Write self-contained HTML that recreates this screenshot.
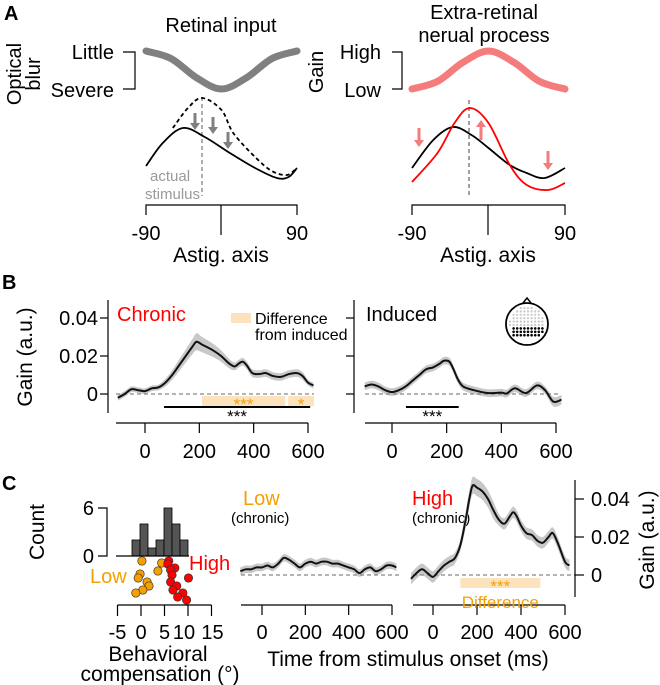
<!DOCTYPE html>
<html><head><meta charset="utf-8"><style>
body{margin:0;background:#fff}
svg{display:block;font-family:"Liberation Sans",Arial,sans-serif}
</style></head><body>
<svg id="fig" width="660" height="685" viewBox="0 0 660 685" xmlns="http://www.w3.org/2000/svg">
<g>
<text x="4" y="20" font-size="20" font-weight="bold">A</text>
<text x="221" y="32" font-size="20" text-anchor="middle">Retinal input</text>
<text transform="translate(21,74) rotate(-90)" font-size="20" text-anchor="middle">Optical</text>
<text transform="translate(40,74) rotate(-90)" font-size="20" text-anchor="middle">blur</text>
<text x="114" y="59" font-size="20" text-anchor="end">Little</text>
<text x="114" y="97" font-size="20" text-anchor="end">Severe</text>
<path d="M123 52H135V89H123" fill="none" stroke="#000" stroke-width="1.2"/>
<text x="484" y="19" font-size="20" text-anchor="middle">Extra-retinal</text>
<text x="484" y="42" font-size="20" text-anchor="middle">nerual process</text>
<text transform="translate(323,72) rotate(-90)" font-size="20" text-anchor="middle">Gain</text>
<text x="381" y="59" font-size="20" text-anchor="end">High</text>
<text x="381" y="97" font-size="20" text-anchor="end">Low</text>
<path d="M392 52H402V89H392" fill="none" stroke="#000" stroke-width="1.2"/>
<text x="150" y="181" font-size="15" fill="#999">actual</text>
<text x="145" y="199" font-size="15" fill="#999">stimulus</text>
<line x1="202" y1="97" x2="202" y2="196" stroke="#999" stroke-width="1.6" stroke-dasharray="4,3"/>
<line x1="469" y1="100" x2="469" y2="196" stroke="#888" stroke-width="1.6" stroke-dasharray="4,3"/>
<path d="M146 215V205H297V215M221 205V235" fill="none" stroke="#000" stroke-width="1.2"/>
<path d="M412 215V205H565V215M488 205V235" fill="none" stroke="#000" stroke-width="1.2"/>
<text x="146" y="240" font-size="20" text-anchor="middle">-90</text>
<text x="297" y="240" font-size="20" text-anchor="middle">90</text>
<text x="221" y="262" font-size="21" text-anchor="middle">Astig. axis</text>
<text x="412" y="240" font-size="20" text-anchor="middle">-90</text>
<text x="565" y="240" font-size="20" text-anchor="middle">90</text>
<text x="488" y="262" font-size="21" text-anchor="middle">Astig. axis</text>
</g>
<g>
<text x="2" y="289" font-size="20" font-weight="bold">B</text>
<text transform="translate(32,357) rotate(-90)" font-size="21" text-anchor="middle">Gain (a.u.)</text>
<text x="117" y="321" font-size="20" fill="#f00">Chronic</text>
<rect x="231" y="313" width="20" height="10" fill="#fde3bd"/>
<text x="255" y="324" font-size="16">Difference</text>
<text x="255" y="340" font-size="16">from induced</text>
<text x="366" y="321" font-size="20">Induced</text>
</g>
<g>
<text x="2" y="490" font-size="20" font-weight="bold">C</text>
<text transform="translate(44,532) rotate(-90)" font-size="21" text-anchor="middle">Count</text>
<text x="94" y="515" font-size="20" text-anchor="end">6</text>
<text x="94" y="563" font-size="20" text-anchor="end">0</text>
<text x="90" y="583" font-size="20" fill="#f5a000">Low</text>
<text x="189" y="570" font-size="20" fill="#f00">High</text>
<text x="158" y="661" font-size="21" text-anchor="middle">Behavioral</text>
<text x="160" y="681" font-size="21" text-anchor="middle">compensation (°)</text>
<text x="243" y="505" font-size="20" fill="#f5a000">Low</text>
<text x="231" y="523" font-size="15">(chronic)</text>
<text x="412" y="505" font-size="20" fill="#f00">High</text>
<text x="412" y="523" font-size="15">(chronic)</text>
<text x="408" y="666" font-size="21" text-anchor="middle">Time from stimulus onset (ms)</text>
<text transform="translate(654,540) rotate(-90)" font-size="21" text-anchor="middle">Gain (a.u.)</text>
</g>
<g id="dyn"></g>
</svg>
<script>
// ---- Panel A schematic data ----
const aBlurAngles = [-90,-60,-30,0,30,60,90];
const aBlurVals = [1,0.8,0.3,0,0.3,0.8,1];
const aGainVals = [0,0.2,0.7,1,0.7,0.2,0];
const aLeftBlackAng = [-90,-70,-46,-20,10,40,66,80,90];
const aLeftBlackVal = [0.29,0.52,0.67,0.58,0.42,0.27,0.17,0.18,0.27];
const aLeftDashAng = [-58,-40,-23,0,14,40,60,78,90];
const aLeftDashVal = [0.67,0.87,0.97,0.85,0.62,0.38,0.24,0.2,0.27];
const aRightBlackAng = [-90,-65,-42,-20,0,25,45,66,90];
const aRightBlackVal = [0.27,0.55,0.68,0.6,0.47,0.3,0.22,0.17,0.27];
const aRightRedAng = [-90,-60,-40,-22,0,25,45,70,90];
const aRightRedVal = [0.13,0.42,0.72,0.87,0.72,0.3,0.1,0.05,0.12];
// ---- Panel B data ----
const chronicT = [-100,-75,-50,-25,0,25,50,75,100,125,150,175,190,210,250,280,310,330,345,360,375,395,420,445,470,500,530,560,580,600,620];
const chronicG = [-0.002,0,0.0025,0.002,0.0015,0.003,0.0035,0.006,0.01,0.015,0.02,0.025,0.0275,0.026,0.023,0.02,0.016,0.0145,0.016,0.017,0.015,0.011,0.0105,0.011,0.0095,0.009,0.0105,0.011,0.0095,0.006,0.0045];
const chronicE = [0.0015,0.0015,0.0015,0.0015,0.0015,0.0015,0.0015,0.002,0.0025,0.003,0.0035,0.004,0.0045,0.004,0.0035,0.003,0.0025,0.002,0.002,0.002,0.002,0.002,0.002,0.002,0.002,0.002,0.002,0.002,0.002,0.0015,0.0015];
const inducedT = [-100,-75,-50,-25,0,25,50,75,100,125,150,175,190,210,225,240,260,300,350,400,420,450,490,530,560,590,620];
const inducedG = [0.004,0.005,0.004,0.002,0.001,0.002,0.004,0.007,0.01,0.013,0.014,0.016,0.0175,0.017,0.013,0.008,0.004,0.002,0.0005,0.0007,0.0003,0.003,0.0005,0.0045,0.002,-0.004,-0.003];
const inducedE = [0.002,0.002,0.002,0.002,0.002,0.002,0.002,0.002,0.002,0.002,0.002,0.002,0.002,0.002,0.002,0.002,0.002,0.002,0.002,0.002,0.002,0.002,0.002,0.002,0.002,0.0025,0.0025];
const chronicDiffBars = [[210,516,"***"],[527,622,"*"]];
const chronicSigBar = [70,608];
const inducedSigBar = [51,244];
// ---- Panel C data ----
const histCounts = [2,4,1,2,6,4,2];
const lowComp = [0.2,4.4,3.6,-0.2,-0.6,1.3,1.7,0.4,-1.1];
const highComp = [5.9,5.7,7.2,6.3,6.6,6.3,7.6,6.8,8.9,7.8,9.7,10.1];
const lowRank = [561,563,571,574,578,582,586,590,593];
const highRank = [561,564,568,570,575,582,586,590,593,597,600,578];
const lowT = [-100,-75,-50,-25,0,25,50,75,100,125,150,175,200,225,250,275,300,325,350,375,400,425,450,475,500,525,550,575,600,620];
const lowG = [0.002,0.003,0.003,0.004,0.004,0.005,0.004,0.006,0.009,0.008,0.006,0.004,0.006,0.007,0.006,0.007,0.007,0.006,0.006,0.005,0.004,0.003,0.001,0.003,0.004,0.002,0.003,0.005,0.005,0.004];
const highT = [-100,-75,-50,-25,0,25,50,75,100,125,150,165,180,200,225,250,275,300,325,350,365,380,400,425,450,475,500,525,545,570,600,620];
const highG = [-0.002,0.001,0.003,0.001,-0.001,0.002,0.005,0.007,0.009,0.016,0.03,0.04,0.047,0.046,0.044,0.04,0.034,0.029,0.027,0.031,0.033,0.031,0.026,0.022,0.021,0.018,0.017,0.02,0.022,0.016,0.007,0.005];
const highDiffBar = [124,488];
const timeTicks = [0,200,400,600];
const gainTicks = [0,0.02,0.04];
const gainTickLabels = ["0","0.02","0.04"];
const compTicks = [-5,0,5,10,15];
const compTickLabels = ["-5","0","5","10","15"];

const NS = "http://www.w3.org/2000/svg";
const root = document.getElementById('dyn');
function el(tag, attrs, parent){ const e=document.createElementNS(NS,tag); for(const k in attrs) e.setAttribute(k,attrs[k]); (parent||root).appendChild(e); return e; }
function lin(d0,d1,r0,r1){ return v=>r0+(v-d0)*(r1-r0)/(d1-d0); }
function smooth(pts){
  let d="M"+pts[0][0].toFixed(2)+" "+pts[0][1].toFixed(2);
  for(let i=0;i<pts.length-1;i++){
    const p0=pts[Math.max(0,i-1)],p1=pts[i],p2=pts[i+1],p3=pts[Math.min(pts.length-1,i+2)];
    const c1=[p1[0]+(p2[0]-p0[0])/6,p1[1]+(p2[1]-p0[1])/6];
    const c2=[p2[0]-(p3[0]-p1[0])/6,p2[1]-(p3[1]-p1[1])/6];
    d+=" C"+c1[0].toFixed(2)+" "+c1[1].toFixed(2)+" "+c2[0].toFixed(2)+" "+c2[1].toFixed(2)+" "+p2[0].toFixed(2)+" "+p2[1].toFixed(2);
  }
  return d;
}
function text(x,y,s,attrs){ const t=el('text',Object.assign({x:x,y:y},attrs||{})); t.textContent=s; return t; }

// ---- Panel A ----
const axL = lin(-90,90,146,297), axR = lin(-90,90,412,565);
const ayTop = v=>89-v*38, ayCurve = v=>195-v*100;
let p;
p=el('path',{d:smooth(aBlurAngles.map((a,i)=>[axL(a),ayTop(aBlurVals[i])])),fill:'none',stroke:'#808080','stroke-width':7,'stroke-linecap':'round'});


p=el('path',{d:smooth(aBlurAngles.map((a,i)=>[axR(a),ayTop(aGainVals[i])])),fill:'none',stroke:'#f47c7c','stroke-width':7,'stroke-linecap':'round'});


p=el('path',{d:smooth(aLeftDashAng.map((a,i)=>[axL(a),ayCurve(aLeftDashVal[i])])),fill:'none',stroke:'#000','stroke-width':1.8,'stroke-dasharray':'4,3'});


p=el('path',{d:smooth(aLeftBlackAng.map((a,i)=>[axL(a),ayCurve(aLeftBlackVal[i])])),fill:'none',stroke:'#000','stroke-width':1.8});


p=el('path',{d:smooth(aRightBlackAng.map((a,i)=>[axR(a),ayCurve(aRightBlackVal[i])])),fill:'none',stroke:'#000','stroke-width':1.8});


p=el('path',{d:smooth(aRightRedAng.map((a,i)=>[axR(a),ayCurve(aRightRedVal[i])])),fill:'none',stroke:'#f00','stroke-width':1.8});


function arrow(x,y1,y2,col){
  const dir=y2>y1?1:-1;
  el('line',{x1:x,y1:y1,x2:x,y2:y2-dir*6,stroke:col,'stroke-width':3});
  el('path',{d:`M${x-5} ${y2-dir*7}L${x+5} ${y2-dir*7}L${x} ${y2}Z`,fill:col});
}
arrow(195,113,130,'#808080');arrow(213,117,134,'#808080');arrow(228,132,149,'#808080');
arrow(419,128,147,'#f47c7c');arrow(481,140,120,'#f47c7c');arrow(548,151,170,'#f47c7c');

// ---- generic time-course plot ----
const gy0B = g=>394-g*1900, gyC = g=>575-g*1900;
function timePlot(name,T,G,E,xs,ys,x0,x1,axisY){
  const up=T.map((t,i)=>[xs(t),ys(G[i]+E[i])]), lo=T.map((t,i)=>[xs(t),ys(G[i]-E[i])]).reverse();
  const band=el('path',{d:smooth(up)+" L"+smooth(lo).slice(1)+"Z",fill:'#c8c8c8',stroke:'none'});
  
  
  el('line',{x1:x0,x2:x1,y1:ys(0),y2:ys(0),stroke:'#888','stroke-width':1.2,'stroke-dasharray':'4,3'});
  const ln=el('path',{d:smooth(T.map((t,i)=>[xs(t),ys(G[i])])),fill:'none',stroke:'#111','stroke-width':2});
  
  
  el('line',{x1:x0,x2:xs(600),y1:axisY,y2:axisY,stroke:'#000','stroke-width':1.2});
  timeTicks.forEach(t=>{
    el('line',{x1:xs(t),x2:xs(t),y1:axisY,y2:axisY+10,stroke:'#000','stroke-width':1.2});
    text(xs(t),axisY+(axisY>500?34:35),String(t),{'font-size':20,'text-anchor':'middle'});
  });
}
function band(x0,x1,y,h,col){ return el('rect',{x:x0,y:y,width:x1-x0,height:h,fill:col}); }

const bxL=lin(0,600,145,308), bxR=lin(0,600,392,556);
let r;
chronicDiffBars.forEach(b=>{ r=band(bxL(b[0]),bxL(b[1]),396,10,'#fde3bd');   });
timePlot('chronic',chronicT,chronicG,chronicE,bxL,gy0B,116,314,423);
chronicDiffBars.forEach(b=>text((bxL(b[0])+bxL(b[1]))/2,410,b[2],{'font-size':17,fill:'#f5a000','text-anchor':'middle'}));
el('line',{x1:bxL(chronicSigBar[0]),x2:bxL(chronicSigBar[1]),y1:407,y2:407,stroke:'#000','stroke-width':2});
text((bxL(chronicSigBar[0])+bxL(chronicSigBar[1]))/2,422,"***",{'font-size':17,'text-anchor':'middle'});
el('line',{x1:108,x2:108,y1:300,y2:413,stroke:'#000','stroke-width':1.2});
gainTicks.forEach((g,i)=>{ el('line',{x1:100,x2:108,y1:gy0B(g),y2:gy0B(g),stroke:'#000','stroke-width':1.2}); text(98,gy0B(g)+7,gainTickLabels[i],{'font-size':20,'text-anchor':'end'}); });
timePlot('induced',inducedT,inducedG,inducedE,bxR,gy0B,365,558,423);
el('line',{x1:bxR(inducedSigBar[0]),x2:bxR(inducedSigBar[1]),y1:407,y2:407,stroke:'#000','stroke-width':2});
text((bxR(inducedSigBar[0])+bxR(inducedSigBar[1]))/2,422,"***",{'font-size':17,'text-anchor':'middle'});
el('line',{x1:354,x2:354,y1:300,y2:413,stroke:'#000','stroke-width':1.2});
gainTicks.forEach(g=>el('line',{x1:346,x2:354,y1:gy0B(g),y2:gy0B(g),stroke:'#000','stroke-width':1.2}));
const head=el('g',{});


el('path',{d:'M523 303L527 298L531 303',fill:'none',stroke:'#000','stroke-width':1.5},head);
el('circle',{cx:527,cy:324,r:21,fill:'#fff',stroke:'#000','stroke-width':1.8},head);
for(let ry=0;ry<9;ry++){ const yy=308+ry*3.4; for(let cx=-17;cx<=17;cx+=3.6){ const xx=527+cx; if((xx-527)**2+(yy-324)**2>17.5*17.5) continue; const black=ry>=6; el('circle',{cx:xx,cy:yy,r:black?1.3:1.1,fill:black?'#000':'#c8c8c8'},head);} }

// ---- Panel C ----
const hx0=132,bw=8,hy=c=>556-c*8;
histCounts.forEach((c,i)=>{ r=el('rect',{x:hx0+i*bw,y:hy(c),width:bw,height:c*8,fill:'#555',stroke:'#000','stroke-width':0.8});   });
el('line',{x1:116,x2:189,y1:556,y2:556,stroke:'#000','stroke-width':1.2});
el('path',{d:'M98 508H107V556H98',fill:'none',stroke:'#000','stroke-width':1.2});
const cx=lin(0,10,141,188);
el('line',{x1:cx(-5),x2:cx(15),y1:605,y2:605,stroke:'#000','stroke-width':1.2});
compTicks.forEach((t,i)=>{ el('line',{x1:cx(t),x2:cx(t),y1:605,y2:616,stroke:'#000','stroke-width':1.2}); text(cx(t)+(t===10?-4:t===15?1:0),639,compTickLabels[i],{'font-size':20,'text-anchor':'middle'}); });
lowComp.forEach((v,i)=>{ const c=el('circle',{cx:cx(v),cy:lowRank[i],r:4.2,fill:'#f5a000',stroke:'#333','stroke-width':0.7});   });
highComp.forEach((v,i)=>{ const c=el('circle',{cx:cx(v),cy:highRank[i],r:4.2,fill:'#f00',stroke:'#333','stroke-width':0.7});   });
const cxM=lin(0,600,262,392), cxR=lin(0,600,433,565);
const lowE=lowT.map(()=>0.002), highE=highT.map((t)=>t>130&&t<300?0.0045:0.003);
timePlot('low-chronic',lowT,lowG,lowE,cxM,gyC,241,399,605);
r=band(cxR(highDiffBar[0]),cxR(highDiffBar[1]),578,10,'#fde3bd');


timePlot('high-chronic',highT,highG,highE,cxR,gyC,413,575,605);
text((cxR(highDiffBar[0])+cxR(highDiffBar[1]))/2,592,"***",{'font-size':17,fill:'#f5a000','text-anchor':'middle'});
text((cxR(highDiffBar[0])+cxR(highDiffBar[1]))/2,608,"Difference",{'font-size':17,fill:'#f5a000','text-anchor':'middle'});
el('line',{x1:575,x2:575,y1:480,y2:597,stroke:'#000','stroke-width':1.2});
gainTicks.forEach((g,i)=>{ el('line',{x1:575,x2:584,y1:gyC(g),y2:gyC(g),stroke:'#000','stroke-width':1.2}); text(591,gyC(g)+7,gainTickLabels[i],{'font-size':20}); });
</script>
</body></html>
